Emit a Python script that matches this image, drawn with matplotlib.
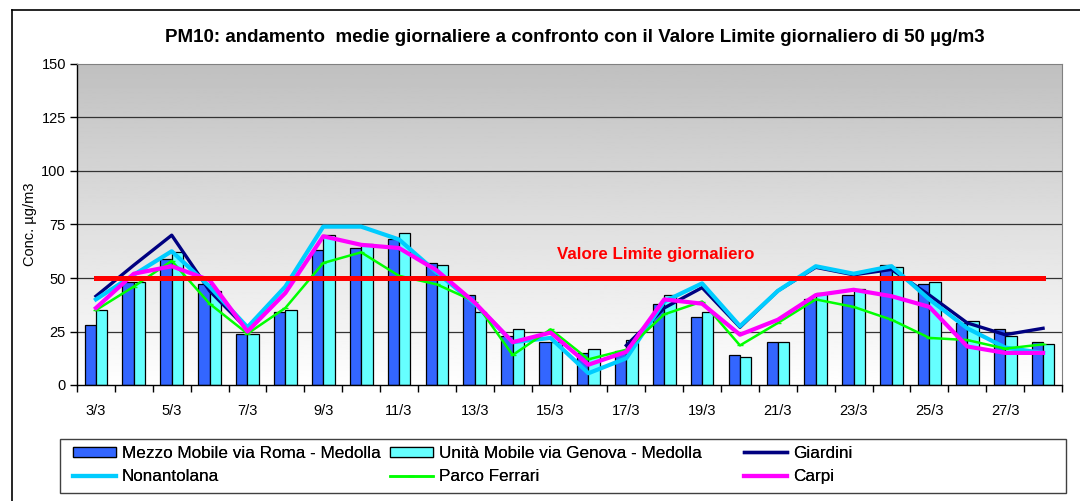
import numpy as np
import matplotlib.pyplot as plt
from matplotlib.patches import Rectangle
from matplotlib.lines import Line2D

plt.rcParams['font.family'] = ['Liberation Sans', 'DejaVu Sans']

days = ['3/3', '4/3', '5/3', '6/3', '7/3', '8/3', '9/3', '10/3', '11/3', '12/3', '13/3', '14/3', '15/3',
        '16/3', '17/3', '18/3', '19/3', '20/3', '21/3', '22/3', '23/3', '24/3', '25/3', '26/3', '27/3', '28/3']

mezzo = [28, 48, 59, 47, 24, 34, 63, 64, 68, 57, 42, 23, 20, 15, 16, 38, 32, 14, 20, 40, 42, 56, 47, 29, 26, 20]
unita = [35, 48, 62, 44, 24, 35, 70, 66, 71, 56, 34, 26, 20, 17, 21, 42, 34, 13, 20, 43, 45, 55, 48, 30, 23, 19]
nan = np.nan
giardini = [41.5, 56, 70, 44, 26, nan, nan, nan, nan, nan, nan, nan, nan, nan,
            18.5, 36, 45.5, 27, 44, 55, 51.5, 54, 42, 29, 23.5, 26.5]
nonantolana = [40, 51.5, 62.5, 46, 27, 46, 74, 74, 68, 52.5, 38, 20, 22, 5.5, 12.5, 39, 47.5, 27.5, 44, 55.5,
               52, 55.5, 40, 26.5, 17.5, 15]
ferrari = [35, 46, 58, 38, 24, 36, 57, 62, 51, 47, 39, 14, 26, 12, 16.5, 33, 39, 18.5, 29, 40, 36.5, 30.5,
           22, 21, 17, 19]
carpi = [36, 52, 55.5, 49, 25, 43, 69.5, 65.5, 64, 53.5, 38.5, 20, 24.5, 9.5, 15.5, 40, 38, 23.5, 30.5, 42,
         44.5, 41.5, 36.5, 18, 15, 15]
limite = [50] * len(days)

x = np.arange(len(days))

fig = plt.figure(figsize=(10.8, 5.01), dpi=100)
ax = fig.add_axes([77 / 1080, 1 - 385 / 501, (1062 - 77) / 1080, (385 - 64) / 501])

# sfondo sfumato grigio -> bianco
grad = np.linspace(1.0, 0.75, 256).reshape(-1, 1)
ax.imshow(grad, cmap='gray', vmin=0, vmax=1, origin='lower', aspect='auto',
          extent=(-0.5, len(days) - 0.5, 0, 150), zorder=0)

for yv in range(25, 150, 25):
    ax.axhline(yv, color='#333333', lw=0.9, zorder=1)

w = 0.3
b1 = ax.bar(x - w / 2, mezzo, w, color='#3366ff', edgecolor='black', lw=0.9, zorder=2)
b2 = ax.bar(x + w / 2, unita, w, color='#66ffff', edgecolor='black', lw=0.9, zorder=2)

l1, = ax.plot(x, giardini, color='#000080', lw=2.4, zorder=3)
l2, = ax.plot(x, nonantolana, color='#00ccff', lw=3.0, zorder=4)
l3, = ax.plot(x, ferrari, color='#00ff00', lw=1.8, marker='_', ms=4, zorder=5)
l4, = ax.plot(x, carpi, color='#ff00ff', lw=3.0, zorder=6)
ax.plot(x, limite, color='#ff0000', lw=3.6, zorder=7)

ax.text(14.77, 61, 'Valore Limite giornaliero', color='#ff0000', fontsize=12.2, fontweight='bold',
        ha='center', va='center', zorder=8)

ax.set_xlim(-0.5, len(days) - 0.5)
ax.set_ylim(0, 150)
ax.set_yticks(range(0, 151, 25))
ax.set_xticks(x[::2])
ax.set_xticklabels(days[::2])
ax.set_xticks(np.arange(-0.5, len(days)), minor=True)
ax.tick_params(axis='x', which='major', length=0, pad=14, labelsize=10.5)
ax.tick_params(axis='x', which='minor', length=5, width=1, direction='out')
ax.tick_params(axis='y', length=5, width=1, direction='out', labelsize=10.5, pad=3)
for s in ['top', 'right']:
    ax.spines[s].set_color('#808080')
for s in ['left', 'bottom']:
    ax.spines[s].set_color('black')
    ax.spines[s].set_linewidth(1)

ax.set_ylabel('Conc. µg/m3', fontsize=10.5, labelpad=3)
fig.text(575 / 1080, 1 - 38 / 501, 'PM10: andamento  medie giornaliere a confronto con il Valore Limite giornaliero di 50 µg/m3',
         ha='center', va='center', fontsize=13.5, fontweight='bold')

# cornice esterna
fig.add_artist(Line2D([12 / 1080, 12 / 1080], [0, 1 - 10 / 501], color='black', lw=1.2))
fig.add_artist(Line2D([12 / 1080, 1], [1 - 10 / 501, 1 - 10 / 501], color='black', lw=1.2))

# legenda: riquadro + tre colonne
fig.add_artist(Rectangle((60 / 1080, 1 - 493 / 501), (1066 - 60) / 1080, (493 - 439) / 501,
                         transform=fig.transFigure, fill=False, edgecolor='#404040', lw=1))
columns = [
    ([b1, l2], ['Mezzo Mobile via Roma - Medolla', 'Nonantolana'], 73),
    ([b2, l3], ['Unità Mobile via Genova - Medolla', 'Parco Ferrari'], 390),
    ([l1, l4], ['Giardini', 'Carpi'], 744),
]
for hs, ls, xpos in columns:
    leg = fig.legend(hs, ls, ncol=1, loc='center left', bbox_to_anchor=(xpos / 1080, 1 - 465 / 501),
                     frameon=False, fontsize=12.3, handlelength=2.5, handleheight=0.55, handletextpad=0.35,
                     labelspacing=0.5, borderpad=0, borderaxespad=0)
    fig.add_artist(leg)

fig.savefig('out.png', dpi=100)
